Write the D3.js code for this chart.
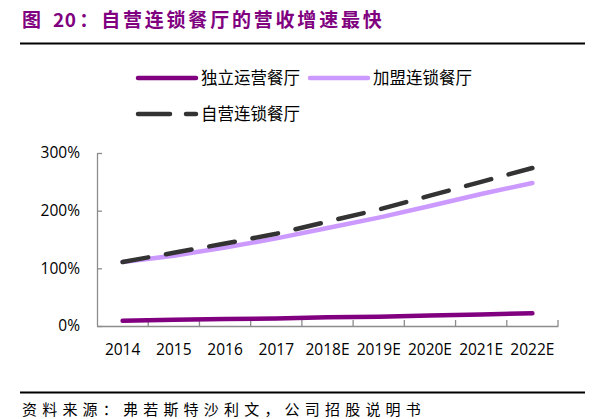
<!DOCTYPE html>
<html><head><meta charset="utf-8">
<script src="https://cdn.jsdelivr.net/npm/d3@7"></script>
<style>
html,body{margin:0;padding:0;background:#fff;}
svg{display:block;font-family:"Noto Sans CJK SC","Noto Sans",sans-serif;}
</style></head>
<body>
<svg id="chart" width="600" height="419"></svg>
<script>
const categories = ["2014","2015","2016","2017","2018E","2019E","2020E","2021E","2022E"];
const independent = [9, 11, 12, 13, 15, 16, 18, 20, 22];
const franchise = [111, 122, 136, 152, 170, 188, 208, 229, 248];
const selfOperated = [111, 127, 143, 160, 181, 202, 226, 250, 274];
const yTicks = [0, 100, 200, 300];
const seriesNames = ["独立运营餐厅", "加盟连锁餐厅", "自营连锁餐厅"];
const titleParts = ["图 ", "20", "：自营连锁餐厅的营收增速最快"];
const sourceText = "资料来源：弗若斯特沙利文，公司招股说明书";

const svg = d3.select("#chart");
const purple = "#800080";

// title
const title = svg.append("text").attr("x", 22).attr("y", 27)
  .attr("font-size", 19).attr("font-weight", "bold").attr("fill", purple);
title.append("tspan").attr("letter-spacing", 2.8).text(titleParts[0]);
title.append("tspan").attr("letter-spacing", 0.5).attr("dx", 2).text(titleParts[1]);
title.append("tspan").attr("letter-spacing", 2.8).attr("dx", 3).text(titleParts[2]);
svg.append("line").attr("x1", 20).attr("x2", 585).attr("y1", 43.5).attr("y2", 43.5)
  .attr("stroke", "#000").attr("stroke-width", 2);

// footer
svg.append("line").attr("x1", 20).attr("x2", 585).attr("y1", 392.5).attr("y2", 392.5)
  .attr("stroke", "#000").attr("stroke-width", 2);
svg.append("text").attr("x", 22).attr("y", 415)
  .attr("font-size", 15).attr("fill", "#000").attr("letter-spacing", 5.2).text(sourceText);

const x = d3.scaleBand().domain(categories).range([97, 558]);
const y = d3.scaleLinear().domain([0, 300]).range([326, 153]);

// axes
const yAxis = svg.append("g").attr("transform", "translate(97,0)")
  .call(d3.axisLeft(y).tickValues(yTicks).tickFormat(d => d + "%").tickSizeInner(-5).tickSizeOuter(0).tickPadding(17));
const xAxis = svg.append("g").attr("transform", "translate(0,326)")
  .call(d3.axisBottom(x).tickSize(0).tickPadding(18));
// x tick marks at band edges (inward)
const edges = categories.map(c => x(c)).concat([x.range()[1]]);
xAxis.selectAll(".edge").data(edges.slice(1)).enter().append("line")
  .attr("x1", d => d).attr("x2", d => d).attr("y1", 0).attr("y2", -6)
  .attr("stroke", "#8c8c8c").attr("stroke-width", 1.3);
[yAxis, xAxis].forEach(g => {
  g.select(".domain").attr("stroke", "#8c8c8c").attr("stroke-width", 1.3);
  g.selectAll(".tick line").attr("stroke", "#8c8c8c").attr("stroke-width", 1.3);
  g.selectAll(".tick text").attr("font-size", 15.5).attr("fill", "#000")
    .attr("font-family", "'Open Sans','Noto Sans',sans-serif");
});

const line = d3.line().x((d, i) => x(categories[i]) + x.bandwidth() / 2).y(d => y(d));

const series = [
  {name: seriesNames[0], values: independent, color: purple, dash: null},
  {name: seriesNames[1], values: franchise, color: "#cc99ff", dash: null},
  {name: seriesNames[2], values: selfOperated, color: "#333333", dash: "26,18"}
];
series.forEach(s => {
  svg.append("path").datum(s.values).attr("d", line)
    .attr("fill", "none").attr("stroke", s.color).attr("stroke-width", 4.5)
    .attr("stroke-linecap", "round").attr("stroke-dasharray", s.dash);
});

// legend
const legendPos = [[138, 78], [310, 78], [138, 114]];
series.forEach((s, i) => {
  const [lx, ly] = legendPos[i];
  svg.append("line").attr("x1", lx).attr("x2", lx + 58).attr("y1", ly).attr("y2", ly)
    .attr("stroke", s.color).attr("stroke-width", 4.5).attr("stroke-linecap", "round")
    .attr("stroke-dasharray", s.dash ? "32,16" : null);
  svg.append("text").attr("x", lx + 63).attr("y", ly + 6)
    .attr("font-size", 16.5).attr("fill", "#000").text(s.name);
});
</script>
</body></html>
